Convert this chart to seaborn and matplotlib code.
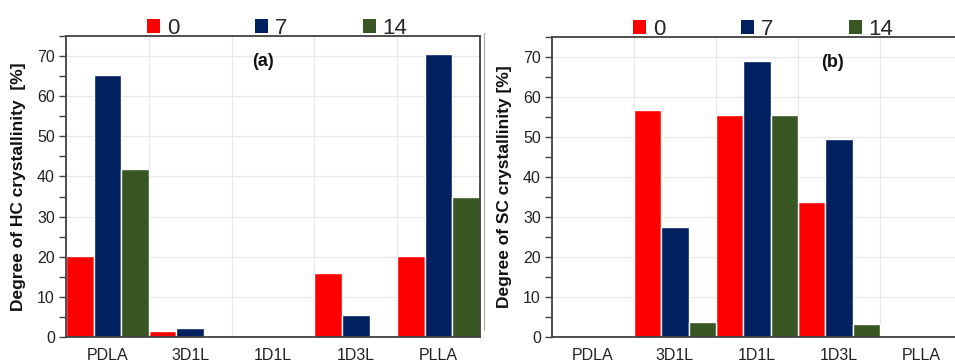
import matplotlib
matplotlib.use("Agg")
import matplotlib.pyplot as plt
import seaborn as sns
import pandas as pd
import numpy as np
from matplotlib.patches import Patch
from matplotlib.ticker import MultipleLocator, FixedLocator
from matplotlib.lines import Line2D

categories = ["PDLA", "3D1L", "1D1L", "1D3L", "PLLA"]
days = ["0", "7", "14"]
hc_0 = [20.3, 1.5, 0.0, 16.0, 20.1]
hc_7 = [65.2, 2.3, 0.0, 5.6, 70.5]
hc_14 = [41.9, 0.0, 0.0, 0.0, 35.0]
sc_0 = [0.0, 56.8, 55.5, 33.7, 0.0]
sc_7 = [0.0, 27.5, 69.1, 49.4, 0.0]
sc_14 = [0.0, 3.8, 55.5, 3.2, 0.0]
colors = ["#FF0000", "#002060", "#385723"]

def long_df(series):
    rows = []
    for d, vals in zip(days, series):
        for c, v in zip(categories, vals):
            rows.append({"cat": c, "day": d, "val": v})
    return pd.DataFrame(rows)

sns.set_theme(style="white")
plt.rcParams["font.family"] = ["Liberation Sans", "DejaVu Sans"]

fig = plt.figure(figsize=(9.55, 3.62), dpi=100)
W, H = 955, 362
ax1 = fig.add_axes([66 / W, 1 - 337 / H, 414 / W, 301 / H])
ax2 = fig.add_axes([552 / W, 1 - 337 / H, 410 / W, 300 / H])

spine_c = "#404040"
for ax, series, ylabel, tag in [
    (ax1, [hc_0, hc_7, hc_14], "Degree of HC crystallinity  [%]", "(a)"),
    (ax2, [sc_0, sc_7, sc_14], "Degree of SC crystallinity [%]", "(b)"),
]:
    df = long_df(series)
    sns.barplot(data=df, x="cat", y="val", hue="day", hue_order=days,
                order=categories, palette=colors, width=1.0, dodge=True,
                edgecolor="white", linewidth=1.0, saturation=1.0, ax=ax,
                legend=False, errorbar=None)
    ax.set_xlim(-0.5, 4.5)
    ax.set_ylim(0, 75)
    ax.yaxis.set_major_locator(MultipleLocator(10))
    ax.yaxis.set_minor_locator(MultipleLocator(5))
    ax.xaxis.set_minor_locator(FixedLocator([0.5, 1.5, 2.5, 3.5]))
    ax.set_axisbelow(True)
    ax.grid(axis="y", which="major", color="#E8E8E8", linewidth=0.9)
    ax.grid(axis="x", which="minor", color="#E8E8E8", linewidth=0.9)
    ax.tick_params(axis="y", which="both", direction="out", left=True,
                   length=5, width=1.0, color=spine_c, labelsize=11.5,
                   labelcolor="#222222", pad=3)
    ax.tick_params(axis="x", which="both", bottom=False, length=0,
                   labelsize=11.5, labelcolor="#222222", pad=8)
    ax.set_xlabel("")
    ax.set_ylabel(ylabel, fontsize=12.5, fontweight="bold", color="#111111",
                  labelpad=8)
    for s in ["left", "bottom", "top", "right"]:
        ax.spines[s].set_color(spine_c)
        ax.spines[s].set_linewidth(1.3)
    ax.text(0.476 if tag == "(a)" else 0.685, 0.915, tag,
            transform=ax.transAxes, ha="center", va="center",
            fontsize=13, fontweight="bold", color="#111111")
    handles = [Patch(facecolor=c, edgecolor="none", label=d)
               for c, d in zip(colors, days)]
    ax.legend(handles=handles, loc="lower center",
              bbox_to_anchor=(0.51 if tag == "(a)" else 0.515, 0.99),
              ncol=3, frameon=False, fontsize=16, handlelength=0.6,
              handleheight=0.6, handletextpad=0.3, columnspacing=3.4,
              borderaxespad=0.0, borderpad=0.0)

# thin grey panel frame line between the panels
fig.add_artist(Line2D([484 / W, 484 / W], [1 - 330 / H, 1 - 33 / H],
                      color="#AAAAAA", linewidth=0.8))

fig.savefig("out.png", dpi=100)
